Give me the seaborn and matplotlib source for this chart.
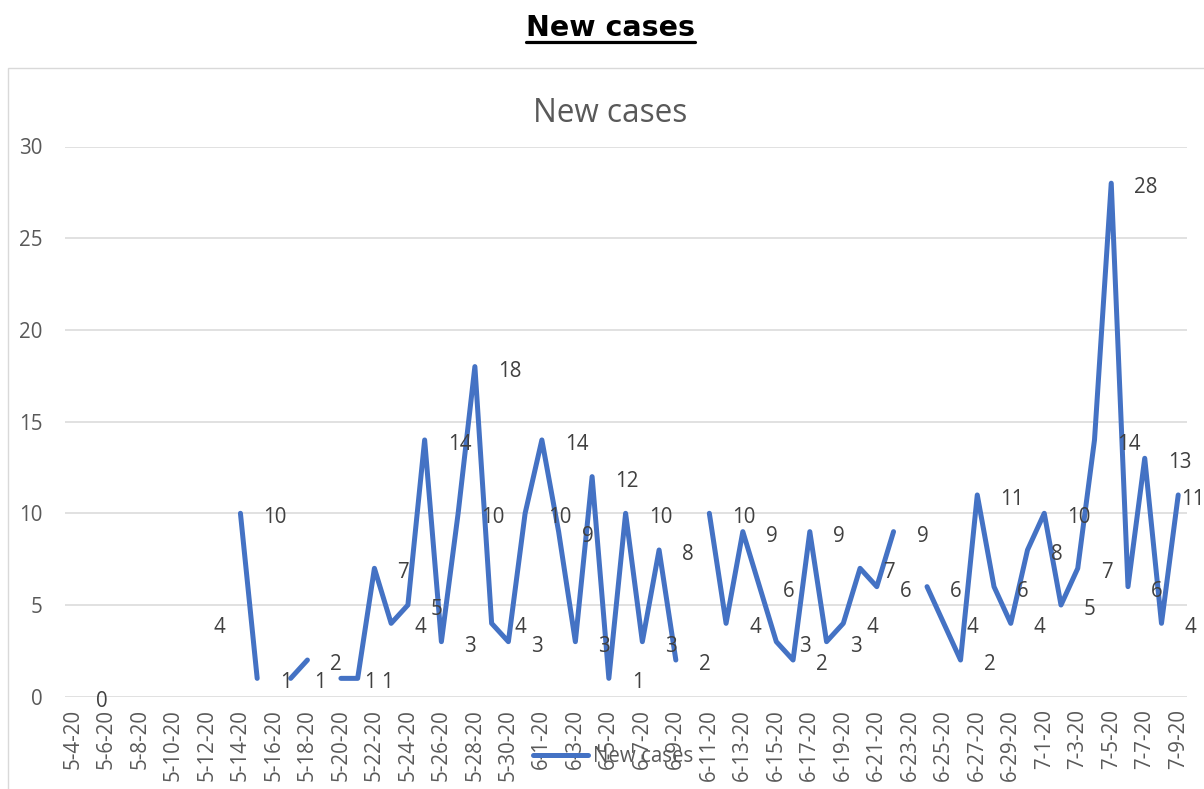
import numpy as np
import pandas as pd
import matplotlib
matplotlib.use("Agg")
import matplotlib.pyplot as plt
from matplotlib.lines import Line2D
from matplotlib.patches import Rectangle
import seaborn as sns

# ---------------- data ----------------
dates = [f"{d.month}-{d.day}-20" for d in pd.date_range("2020-05-04", "2020-07-09")]
new_cases = [0, None, None, None, None, None, None, 4, None, None,
             10, 1, None, 1, 2, None, 1, 1, 7, 4,
             5, 14, 3, 10, 18, 4, 3, 10, 14, 9,
             3, 12, 1, 10, 3, 8, 2, None, 10, 4,
             9, 6, 3, 2, 9, 3, 4, 7, 6, 9,
             None, 6, 4, 2, 11, 6, 4, 8, 10, 5,
             7, 14, 28, 6, 13, 4, 11]
series_name = "New cases"
page_title = "New cases"
y_ticks = [0, 5, 10, 15, 20, 25, 30]
assert len(dates) == len(new_cases)

# ---------------- style ----------------
sns.set_style("white")
plt.rcParams["font.family"] = ["Open Sans", "DejaVu Sans"]

W, H = 1204, 789
DPI = 100
fig = plt.figure(figsize=(W / DPI, H / DPI), dpi=DPI)

def fx(x):
    return x / W

def fy(y):
    return 1 - y / H

ax_left, ax_right = 64.6, 1186.6
ax_top, ax_bottom = 146.5, 696.7
ax = fig.add_axes([fx(ax_left), fy(ax_bottom), (ax_right - ax_left) / W, (ax_bottom - ax_top) / H])

BLUE = "#4472C4"
GRID = "#D9D9D9"
TICK_C = "#595959"
LABEL_C = "#404040"
FS = 14.8

# build dataframe; split into contiguous segments at missing values
df = pd.DataFrame({"pos": np.arange(len(dates)), "date": dates,
                   "val": pd.to_numeric(pd.Series(new_cases, dtype="float"))})
df["seg"] = df["val"].isna().cumsum()
valid = df.dropna(subset=["val"]).copy()
seg_sizes = valid.groupby("seg")["val"].transform("size")
line_df = valid[seg_sizes >= 2]

sns.lineplot(data=line_df, x="pos", y="val", units="seg", estimator=None,
             color=BLUE, linewidth=3.6, legend=False, ax=ax,
             solid_capstyle="round", solid_joinstyle="round", zorder=3)

# data labels (right of point)
for _, r in valid.iterrows():
    off = 16.6 if r["pos"] < len(dates) - 1 else 2.0
    ax.annotate(f"{int(r['val'])}", (r["pos"], r["val"]), xytext=(off, -1.5),
                textcoords="offset points", ha="left", va="center_baseline",
                fontsize=FS, color=LABEL_C, zorder=4, annotation_clip=False)

ax.set_xlim(-0.5, len(dates) - 0.5)
ax.set_ylim(0, 30)
ax.set_yticks(y_ticks)
ax.set_yticklabels([str(t) for t in y_ticks])
ax.set_xticks(np.arange(0, len(dates), 2))
ax.set_xticklabels(dates[::2], rotation=90)
ax.tick_params(axis="y", length=0, pad=16, labelsize=FS, labelcolor=TICK_C)
ax.tick_params(axis="x", length=0, pad=9, labelsize=FS, labelcolor=TICK_C)
ax.set_xlabel("")
ax.set_ylabel("")
ax.grid(False)
for yv in y_ticks:
    ax.axhline(yv, color=GRID, lw=1.1, zorder=1)
for s in ax.spines.values():
    s.set_visible(False)
ax.set_facecolor("none")

# chart area border
fig.patches.append(Rectangle((fx(8), -0.2), 1.2, fy(68) + 0.2, transform=fig.transFigure,
                             fill=False, edgecolor=GRID, lw=1.0, zorder=0))

# inner chart title
fig.text(fx(610), fy(121.5), series_name, ha="center", va="baseline",
         fontsize=22.7, color=TICK_C)

# page title, bold underlined
fig.text(fx(611), fy(36.5), page_title, ha="center", va="baseline",
         fontsize=20.5, fontweight="bold", color="black", family="DejaVu Sans")
fig.add_artist(Line2D([fx(526), fx(695)], [fy(41.5), fy(41.5)], transform=fig.transFigure,
                      color="black", lw=2.3))

# legend
handle = Line2D([], [], color=BLUE, lw=3.6, solid_capstyle="round")
fig.legend(handles=[handle], labels=[series_name], loc="center",
           bbox_to_anchor=(fx(613), fy(757)), bbox_transform=fig.transFigure,
           frameon=False, fontsize=FS, labelcolor=TICK_C,
           handlelength=2.7, handletextpad=0.25, borderpad=0)

fig.savefig("out.png", dpi=DPI)
